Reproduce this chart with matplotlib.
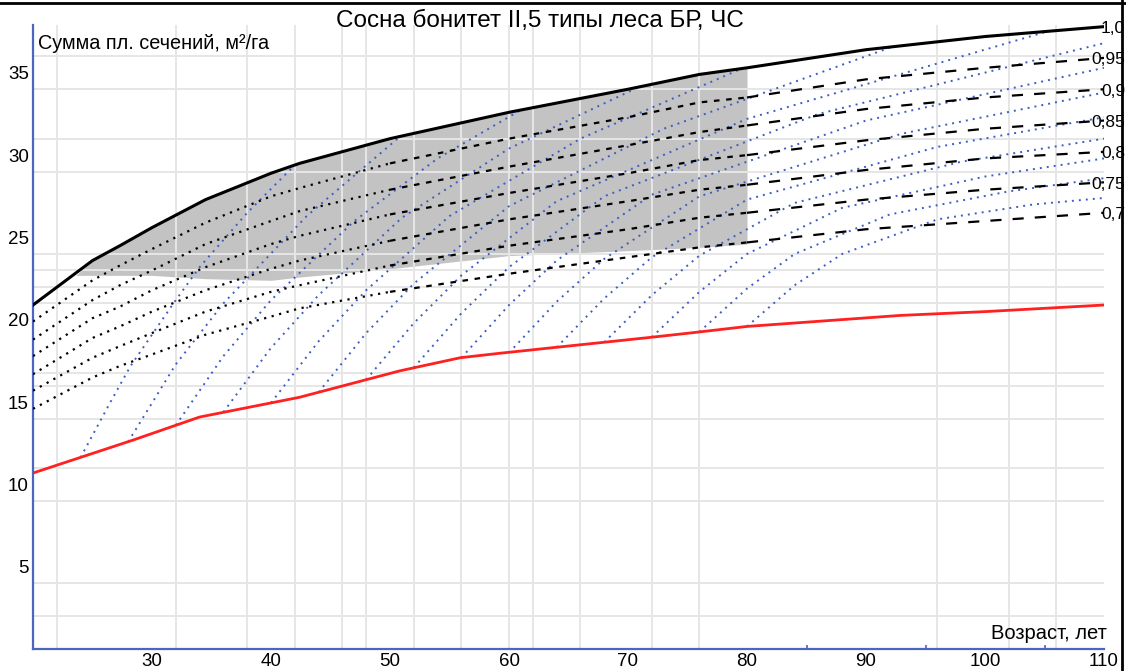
import matplotlib
matplotlib.use("Agg")
import matplotlib.pyplot as plt
from matplotlib.lines import Line2D

plt.rcParams['font.family'] = ['Liberation Sans', 'DejaVu Sans']

# ---------------- data ----------------
ages = [20, 25, 27.3, 30, 34.5, 40, 42.4, 50, 60, 70, 76, 80, 90, 100, 110]
g_full = [20.9, 23.6, 24.5, 25.6, 27.3, 28.9, 29.5, 31.0, 32.6, 34.0, 34.9, 35.3, 36.4, 37.2, 37.8]

red_ages = [20, 28.4, 34.0, 42.4, 50.8, 55.9, 59.2, 71.8, 76.05, 80, 92.9, 100, 110]
red_g = [10.7, 12.7, 14.1, 15.3, 16.9, 17.7, 17.97, 18.93, 19.27, 19.6, 20.27, 20.5, 20.9]

density_labels = ['1,0', '0,95', '0,9', '0,85', '0,8', '0,75', '0,7']
d095 = [19.9, 22.4, 23.3, 24.3, 25.9, 27.5, 28.0, 29.5, 31.0, 32.3, 33.2, 33.5, 34.6, 35.3, 35.9]
d090 = [18.8, 21.2, 22.1, 23.0, 24.6, 26.0, 26.6, 27.9, 29.3, 30.6, 31.4, 31.8, 32.8, 33.5, 34.0]
d085 = [17.8, 20.1, 20.8, 21.8, 23.2, 24.6, 25.1, 26.4, 27.7, 28.9, 29.7, 30.0, 30.9, 31.6, 32.1]
d080 = [16.7, 18.9, 19.6, 20.5, 21.8, 23.1, 23.6, 24.8, 26.1, 27.2, 27.9, 28.2, 29.1, 29.8, 30.2]
d075 = [15.7, 17.7, 18.4, 19.2, 20.5, 21.7, 22.1, 23.3, 24.5, 25.5, 26.2, 26.5, 27.3, 27.9, 28.35]
d070 = [14.6, 16.5, 17.2, 17.9, 19.1, 20.2, 20.7, 21.7, 22.8, 23.8, 24.4, 24.7, 25.5, 26.0, 26.5]
density_curves = [d095, d090, d085, d080, d075, d070]

shade_ages = [23.6, 25, 27.3, 30, 34.5, 40, 42.4, 50, 60, 70, 76, 80]
shade_top = [22.7, 23.6, 24.5, 25.6, 27.3, 28.9, 29.5, 31.0, 32.6, 34.0, 34.9, 35.3]
shade_bottom = [22.7, 22.7, 22.7, 22.7, 22.5, 22.4, 22.6, 23.1, 23.9, 24.2, 24.4, 24.6]

# blue growth lines: (ages, basal area)
blue_lines = [
    ([24, 26.5, 28.2, 31.8, 34, 38, 42], [11.65, 15.0, 17.2, 21.0, 23.2, 26.5, 29.4]),
    ([28, 32, 36, 43, 50.8], [12.6, 17.3, 21.0, 26.3, 31.1]),
    ([32, 36, 40, 47, 54, 60.9], [13.6, 17.8, 21.2, 26.0, 29.8, 32.7]),
    ([36, 40, 44, 51, 60, 70.8], [14.4, 18.3, 21.5, 26.2, 30.4, 34.1]),
    ([40, 44, 48, 55, 66, 79.7], [14.96, 18.7, 21.8, 26.3, 31.0, 35.3]),
    ([44, 48, 52, 60, 73, 92.3], [15.6, 19.2, 22.2, 26.9, 31.6, 36.6]),
    ([48, 52, 56, 64, 80, 105.2], [16.37, 19.8, 22.7, 27.2, 32.2, 37.5]),
    ([52, 56, 60, 68, 86, 110], [17.1, 20.4, 23.2, 27.5, 32.5, 36.8]),
    ([56, 60, 64, 72, 90, 110], [17.7, 20.9, 23.6, 27.6, 32.1, 35.3]),
    ([60, 64, 68, 76, 93, 110], [18.0, 21.1, 23.7, 27.5, 31.3, 33.8]),
    ([64, 68, 72, 80, 96, 110], [18.33, 21.3, 23.8, 27.3, 30.5, 32.3]),
    ([68, 72, 76, 84, 98, 110], [18.64, 21.5, 23.9, 27.1, 29.6, 31.0]),
    ([72, 76, 80, 88, 100, 110], [18.95, 21.7, 24.0, 26.8, 28.7, 29.8]),
    ([76, 80, 84, 92, 102, 110], [19.27, 21.9, 24.0, 26.4, 27.8, 28.6]),
    ([80, 84, 88, 96, 104, 110], [19.6, 22.1, 24.0, 26.1, 27.0, 27.4]),
]

vgrid = [22, 32, 38, 42, 46, 48, 52, 56, 60, 62, 66, 72, 76, 96, 102, 106]
hgrid = [2, 4, 9, 11, 14, 16, 16.8, 21, 22, 23, 24, 29, 31, 34, 36]
xticks = [30, 40, 50, 60, 70, 80, 90, 100, 110]
yticks = [5, 10, 15, 20, 25, 30, 35]
x_marks = [60, 85, 95, 105, 110]

# ---------------- figure ----------------
fig = plt.figure(figsize=(11.26, 6.71), dpi=100)
ax = fig.add_axes([33/1126, 1-649.3/671, (1104-33)/1126, (649.3-25)/671])
ax.set_xlim(20, 110)
ax.set_ylim(0, 37.9)

axis_blue = '#4a66c0'
for s in ['top', 'right']:
    ax.spines[s].set_visible(False)
for s in ['left', 'bottom']:
    ax.spines[s].set_color(axis_blue)
    ax.spines[s].set_linewidth(1.6)

ax.fill_between(shade_ages, shade_bottom, shade_top, color='#c3c3c3', lw=0, zorder=1)

for v in vgrid:
    ax.axvline(v, color='#e6e6e6', lw=1.4, zorder=2)
for h in hgrid:
    ax.axhline(h, color='#e6e6e6', lw=1.4, zorder=2)

ax.set_xticks(xticks)
ax.set_xticklabels([str(t) for t in xticks])
ax.set_yticks(yticks)
ax.set_yticklabels([str(t) for t in yticks])
ax.tick_params(axis='both', length=0, labelsize=13.5, colors='black', pad=3)
ax.set_xticks(x_marks, minor=True)
ax.set_yticks(hgrid, minor=True)
ax.tick_params(axis='both', which='minor', length=3, width=1.2, color=axis_blue, direction='in')

# blue growth lines
for bx, by in blue_lines:
    ax.plot(bx, by, color='#3d5cc4', lw=1.4, ls=(0, (1, 2.6)), zorder=3)

# density curves (dashed, denser on the left)
def seg(xs, ys, lo, hi):
    px, py = [], []
    for a, b in zip(xs, ys):
        if lo <= a <= hi:
            px.append(a); py.append(b)
    return px, py

for curve in density_curves:
    for lo, hi, style in [(20, 50, (0, (1, 2.5))), (50, 80, (0, (2.5, 3))), (80, 110, (0, (5, 5)))]:
        px, py = seg(ages, curve, lo, hi)
        ax.plot(px, py, color='black', lw=1.6, ls=style, zorder=4)

ax.plot(ages, g_full, color='black', lw=2.2, zorder=5)
ax.plot(red_ages, red_g, color='#ff2020', lw=2.0, zorder=5)

# right labels
label_vals = [g_full[-1]] + [c[-1] for c in density_curves]
for lab, v in zip(density_labels, label_vals):
    fig.text(1125/1126, ax.transData.transform((110, v))[1] / 671 - 2/671, lab,
             fontsize=12.5, ha='right', va='center')

ax.text(20.4, 36.8, 'Сумма пл. сечений, м²/га', fontsize=14.3, ha='left', va='center')
ax.text(110.2, 0.95, 'Возраст, лет', fontsize=14.5, ha='right', va='center')
fig.text(540/1126, 1-21/671, 'Сосна бонитет II,5 типы леса БР, ЧС', fontsize=17.5, ha='center', va='center')

# outer frame (top and right edges)
fig.add_artist(Line2D([0, 1], [1-3/671, 1-3/671], transform=fig.transFigure, color='black', lw=2))
fig.add_artist(Line2D([1-4/1126, 1-4/1126], [0, 1], transform=fig.transFigure, color='black', lw=2))

fig.savefig('out.png', dpi=100)
